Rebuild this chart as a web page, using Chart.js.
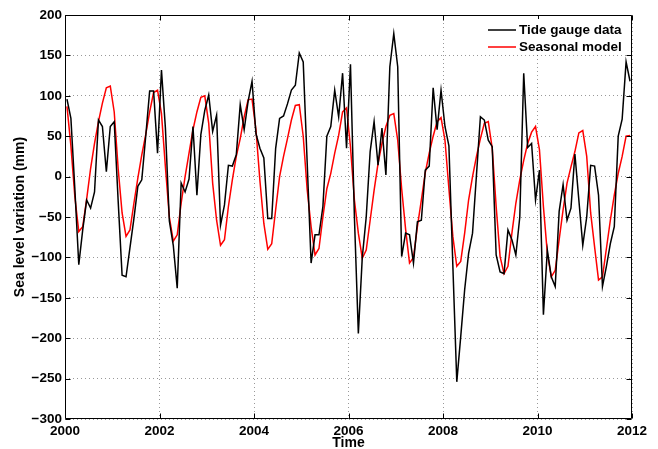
<!DOCTYPE html>
<html>
<head>
<meta charset="utf-8">
<style>
html,body{margin:0;padding:0;background:#fff;}
#wrap{width:658px;height:449px;position:relative;}
</style>
<script src="https://cdn.jsdelivr.net/npm/chart.js@4.4.1/dist/chart.umd.min.js"></script>
</head>
<body>
<div id="wrap"><canvas id="c" width="658" height="449"></canvas></div>
<script>
// ---- data (monthly means, Jan 2000 .. Dec 2011) ----
const startYear = 2000;
const monthsPerYear = 12;
const tideGauge = [
  96, 72, -15, -109, -66, -29, -39, -19, 70, 62, 6, 62,
  68, -30, -122, -124, -88, -52, -12, -4, 50, 106, 106, 29,
  132, 60, -55, -85, -138, -8, -19, -3, 62, -23, 52, 82,
  101, 56, 76, -60, -35, 14, 13, 27, 89, 58, 93, 118,
  53, 35, 23, -52, -52, 35, 72, 75, 90, 107, 113, 153,
  142, 18, -107, -72, -72, -37, 50, 62, 107, 74, 128, 35,
  139, -50, -194, -100, -50, 31, 68, 14, 60, 2, 136, 177,
  136, -99, -70, -72, -107, -56, -54, 8, 13, 110, 58, 107,
  62, 38, -110, -254, -198, -140, -95, -70, 2, 74, 70, 45,
  37, -97, -118, -120, -66, -78, -97, -50, 128, 36, 41, -29,
  8, -171, -91, -124, -136, -43, -10, -54, -39, 28, -29, -85,
  -50, 14, 13, -23, -136, -111, -83, -62, 50, 71, 142, 118
];
const seasonalModel = [
  87, 38, -25, -68, -62, -28, 10, 41, 68, 91, 110, 112,
  80, 10, -45, -74, -66, -33, -2, 27, 52, 80, 104, 107,
  78, 12, -50, -80, -72, -33, 0, 29, 58, 80, 98, 100,
  66, -8, -54, -85, -78, -37, -4, 25, 47, 74, 95, 96,
  58, -5, -58, -90, -83, -41, 0, 25, 47, 70, 88, 89,
  50, -16, -62, -97, -89, -50, -15, 4, 29, 51, 80, 85,
  37, -29, -70, -101, -91, -54, -17, 16, 41, 62, 76, 78,
  45, -15, -65, -107, -100, -62, -29, 5, 29, 50, 68, 73,
  45, -15, -74, -111, -105, -70, -29, 0, 25, 47, 66, 68,
  35, -37, -99, -120, -111, -70, -33, -4, 20, 41, 55, 62,
  33, -37, -95, -124, -116, -78, -41, -8, 12, 31, 54, 57,
  25, -45, -87, -128, -124, -89, -54, -23, 4, 25, 50, 51
];
const seriesNames = ['Tide gauge data', 'Seasonal model'];
const xTickValues = [2000, 2002, 2004, 2006, 2008, 2010, 2012];
const yTickValues = [-300, -250, -200, -150, -100, -50, 0, 50, 100, 150, 200];
const xTitle = 'Time';
const yTitle = 'Sea level variation (mm)';

// ---- build points (mid-month time stamps) ----
const toPoints = arr => arr.map((v, i) => ({ x: startYear + (i + 0.5) / monthsPerYear, y: v }));

const FONT = '"Liberation Sans", Arial, Helvetica, sans-serif';
const tickFont = { family: FONT, size: 13.5, weight: 'bold' };
const titleFont = { family: FONT, size: 14, weight: 'bold', lineHeight: 1 };

const framePlugin = {
  id: 'frame',
  afterDraw(chart) {
    const { ctx, chartArea: a, scales } = chart;
    const xs = scales.x, ys = scales.y;
    const L = Math.round(a.left) + 0.5, R = Math.round(a.right) - 0.5;
    const T = Math.round(a.top) + 0.5, B = Math.round(a.bottom) - 0.5;
    ctx.save();
    ctx.strokeStyle = '#000';
    ctx.lineWidth = 1;
    ctx.setLineDash([]);
    ctx.beginPath();
    ctx.rect(L, T, R - L, B - T);
    const tl = 5;
    xTickValues.forEach(v => {
      const px = Math.round(xs.getPixelForValue(v)) + 0.5;
      ctx.moveTo(px, B); ctx.lineTo(px, B - tl);
      ctx.moveTo(px, T); ctx.lineTo(px, T + tl);
    });
    yTickValues.forEach(v => {
      const py = Math.round(ys.getPixelForValue(v)) + 0.5;
      ctx.moveTo(L, py); ctx.lineTo(L + tl, py);
      ctx.moveTo(R, py); ctx.lineTo(R - tl, py);
    });
    ctx.stroke();

    // legend (top-right inside the axes)
    const lx = a.right - 149, ly = a.top + 4;
    ctx.fillStyle = '#fff';
    ctx.fillRect(lx, ly, 146, 36);
    ctx.font = 'bold 13.5px ' + FONT;
    ctx.textBaseline = 'middle';
    ctx.textAlign = 'left';
    chart.data.datasets.forEach((ds, i) => {
      const yy = a.top + 15 + i * 17;
      ctx.strokeStyle = ds.borderColor;
      ctx.lineWidth = 1.5;
      ctx.beginPath();
      ctx.moveTo(lx + 5, yy);
      ctx.lineTo(lx + 33, yy);
      ctx.stroke();
      ctx.fillStyle = '#000';
      ctx.fillText(ds.label, lx + 36, yy);
    });
    ctx.restore();
  }
};

new Chart(document.getElementById('c'), {
  type: 'line',
  data: {
    datasets: [
      { label: seriesNames[0], data: toPoints(tideGauge), borderColor: '#000000',
        borderWidth: 1.5, pointRadius: 0, tension: 0, fill: false },
      { label: seriesNames[1], data: toPoints(seasonalModel), borderColor: '#ff0000',
        borderWidth: 1.5, pointRadius: 0, tension: 0, fill: false }
    ]
  },
  options: {
    responsive: false,
    animation: false,
    devicePixelRatio: 1,
    layout: { padding: { left: 0, right: 26, top: 15, bottom: 0 } },
    plugins: { legend: { display: false }, tooltip: { enabled: false } },
    scales: {
      x: {
        type: 'linear', min: 2000, max: 2012,
        afterFit: s => { s.height = 30; },
        afterBuildTicks: s => { s.ticks = xTickValues.map(v => ({ value: v })); },
        ticks: { font: tickFont, color: '#000', padding: 4, maxRotation: 0, callback: v => String(v) },
        grid: { color: 'rgba(0,0,0,0.4)', lineWidth: 1, drawTicks: false },
        border: { display: false, dash: [1, 3] },
        title: { display: true, text: xTitle, font: titleFont, color: '#000', padding: { top: 0, bottom: -1.5 } }
      },
      y: {
        type: 'linear', min: -300, max: 200,
        afterFit: s => { s.width = 65; },
        afterBuildTicks: s => { s.ticks = yTickValues.map(v => ({ value: v })); },
        ticks: { font: tickFont, color: '#000', padding: 3, callback: v => String(v).replace('-', '\u2212') },
        grid: { color: 'rgba(0,0,0,0.4)', lineWidth: 1, drawTicks: false },
        border: { display: false, dash: [1, 3] },
        title: { display: true, text: yTitle, font: titleFont, color: '#000', padding: { top: 13, bottom: 0 } }
      }
    }
  },
  plugins: [framePlugin]
});
</script>
</body>
</html>
